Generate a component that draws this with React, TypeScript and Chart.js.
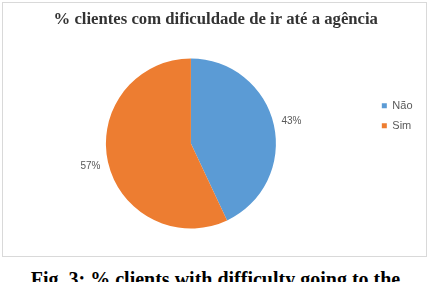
import React, { useEffect, useRef } from "react";
import { Chart, registerables } from "chart.js";

Chart.register(...registerables);

const categories = ["Não", "Sim"];
const values = [43, 57];
const sliceColors = ["#5B9BD5", "#ED7D31"];
const titleText = "% clientes com dificuldade de ir até a agência";
const captionText = "Fig. 3: % clients with difficulty going to the";

const pctLabels = {
  id: "pctLabels",
  afterDatasetsDraw(chart: any) {
    const ctx = chart.ctx;
    const meta = chart.getDatasetMeta(0);
    ctx.save();
    ctx.font = "10px 'Liberation Sans', Arial, sans-serif";
    ctx.fillStyle = "#595959";
    ctx.textAlign = "center";
    ctx.textBaseline = "middle";
    meta.data.forEach((arc: any, i: number) => {
      const p = arc.getProps(["x", "y", "startAngle", "endAngle", "outerRadius"], true);
      const mid = (p.startAngle + p.endAngle) / 2;
      const r = p.outerRadius + 18;
      ctx.fillText(values[i] + "%", p.x + Math.cos(mid) * r, p.y + Math.sin(mid) * r);
    });
    ctx.restore();
  },
};

export default function App() {
  const ref = useRef<HTMLCanvasElement>(null);
  useEffect(() => {
    if (!ref.current) return;
    const chart = new Chart(ref.current, {
      type: "pie",
      data: {
        labels: categories,
        datasets: [
          {
            data: values,
            backgroundColor: sliceColors,
            borderWidth: 0,
          },
        ],
      },
      options: {
        animation: false,
        responsive: false,
        layout: { padding: { left: 6, right: 3.5, top: 0, bottom: 27.5 } },
        plugins: {
          title: {
            display: true,
            text: titleText,
            color: "#333333",
            font: { family: "'Liberation Serif', 'Times New Roman', serif", size: 16.7, weight: "bold" },
            padding: { top: 7, bottom: 28.46 },
          },
          legend: {
            position: "right",
            align: "center",
            labels: {
              boxWidth: 5,
              boxHeight: 5,
              padding: 9,
              color: "#595959",
              font: { family: "'Liberation Sans', Arial, sans-serif", size: 11 },
            },
          },
          tooltip: { enabled: false },
        },
      },
      plugins: [pctLabels],
    });
    return () => chart.destroy();
  }, []);

  return (
    <div style={{ position: "absolute", left: 0, top: 0, width: 431, height: 282, overflow: "hidden", background: "#fff" }}>
      <div
        style={{
          position: "absolute",
          left: 2,
          top: 2,
          width: 425,
          height: 255,
          boxSizing: "border-box",
          border: "1px solid #d9d9d9",
        }}
      >
        <canvas ref={ref} width={423} height={253} style={{ display: "block", width: 423, height: 253 }} />
      </div>
      <div
        style={{
          position: "absolute",
          left: 0,
          top: 268,
          width: 431,
          textAlign: "center",
          fontFamily: "'Liberation Serif', 'Times New Roman', serif",
          fontWeight: "bold",
          fontSize: 20,
          lineHeight: "22px",
          color: "#000",
          whiteSpace: "nowrap",
        }}
      >
        {captionText}
      </div>
    </div>
  );
}
